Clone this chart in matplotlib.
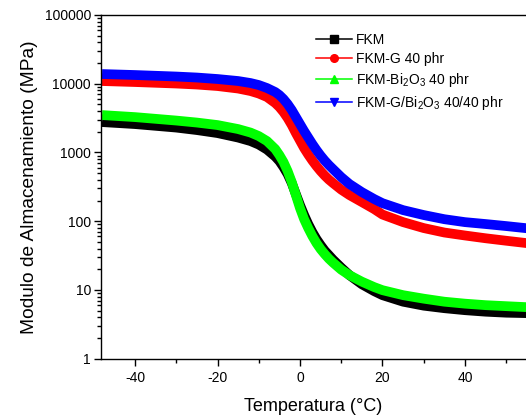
import matplotlib
matplotlib.use("Agg")
import matplotlib.pyplot as plt
from matplotlib.lines import Line2D
from matplotlib.ticker import FixedLocator, LogLocator, FuncFormatter, NullFormatter

plt.rcParams['font.family'] = ['Liberation Sans', 'DejaVu Sans']
plt.rcParams['mathtext.fontset'] = 'custom'
plt.rcParams['mathtext.rm'] = 'Liberation Sans'
plt.rcParams['mathtext.it'] = 'Liberation Sans:italic'
plt.rcParams['axes.unicode_minus'] = False

# temperatura (°C)
temp = [-48, -40, -30, -25, -20, -15, -12, -10, -8, -6, -5, -4, -3, -2, -1,
        0, 1, 2, 3, 4, 5, 6, 7, 8, 10, 12, 15, 18, 20, 25, 30, 35, 40, 45,
        50, 55]

# modulo de almacenamiento (MPa)
fkm = [2770, 2590, 2303, 2119, 1916, 1648, 1465, 1303, 1102, 872, 750, 613,
       485, 359, 248, 172, 123, 90.7, 69.4, 54.9, 44.9, 37.3, 32.1, 27.6,
       21.1, 16.4, 12.1, 9.6, 8.4, 6.75, 5.91, 5.43, 5.08, 4.83, 4.67, 4.60]
fkm_g = [10950, 10590, 10070, 9736, 9259, 8514, 7830, 7201, 6404, 5237, 4581,
         3873, 3168, 2505, 1916, 1490, 1159, 932, 762, 634, 536, 461, 403,
         359, 288, 240, 190, 150, 125, 97, 79.5, 68.5, 62, 56.5, 52, 48.0]
fkm_bi = [3500, 3270, 2913, 2724, 2505, 2191, 1949, 1733, 1465, 1121, 917,
          725, 536, 371, 240, 155, 107, 79.4, 60.7, 48.0, 39.3, 33.2, 28.5,
          25.0, 19.7, 16.4, 13.2, 11.0, 9.93, 8.40, 7.47, 6.75, 6.32, 6.01,
          5.81, 5.62]
fkm_gbi = [13840, 13390, 12730, 12310, 11710, 10950, 10240, 9575, 8660, 7572,
           6847, 5989, 5064, 4142, 3276, 2591, 2049, 1648, 1326, 1084, 901,
           762, 656, 573, 438, 347, 265, 210, 183, 145, 123, 107, 97, 91, 85,
           79]

series = [fkm, fkm_g, fkm_bi, fkm_gbi]
labels = ['FKM', 'FKM-G 40 phr', 'FKM-Bi$_2$O$_3$ 40 phr',
          'FKM-G/Bi$_2$O$_3$ 40/40 phr']
colors = ['#000000', '#ff0000', '#00ff00', '#0000ff']
markers = ['s', 'o', '^', 'v']

fig = plt.figure(figsize=(5.26, 4.2), dpi=100)
ax = fig.add_axes([100.8 / 526, 1 - 358.7 / 420, 1 - 100.8 / 526, (358.7 - 15) / 420])

for y, c in zip(series, colors):
    ax.plot(temp, y, color=c, lw=7, solid_capstyle='butt', solid_joinstyle='round')

ax.set_yscale('log')
ax.set_xlim(-48.3, 54.8)
ax.set_ylim(1, 100000)

ax.xaxis.set_major_locator(FixedLocator([-40, -20, 0, 20, 40]))
ax.xaxis.set_minor_locator(FixedLocator([-30, -10, 10, 30, 50]))
ax.yaxis.set_major_locator(LogLocator(base=10, numticks=10))
ax.yaxis.set_minor_locator(LogLocator(base=10, subs=range(2, 10), numticks=20))
ax.yaxis.set_major_formatter(FuncFormatter(lambda v, p: '%d' % round(v)))
ax.yaxis.set_minor_formatter(NullFormatter())

ax.tick_params(which='major', direction='out', length=5, width=1, labelsize=10, pad=2)
ax.tick_params(axis='x', which='major', pad=4)
ax.tick_params(which='minor', direction='out', length=3, width=1)
ax.spines['right'].set_visible(False)
for s in ['left', 'bottom', 'top']:
    ax.spines[s].set_linewidth(1)

ax.set_xlabel('Temperatura (°C)', fontsize=13, labelpad=9)
ax.set_ylabel('Modulo de Almacenamiento (MPa)', fontsize=13.8, labelpad=5)

handles = [Line2D([], [], color=c, marker=m, markersize=5.5, lw=1.1)
           for c, m in zip(colors, markers)]
ax.legend(handles, labels, loc='upper left', bbox_to_anchor=(316 / 526, 1 - 33 / 420),
          bbox_transform=fig.transFigure, frameon=False, fontsize=10,
          borderpad=0, borderaxespad=0, handlelength=2.6, handletextpad=0.3,
          labelspacing=0.35)

fig.savefig('out.png', dpi=100)
